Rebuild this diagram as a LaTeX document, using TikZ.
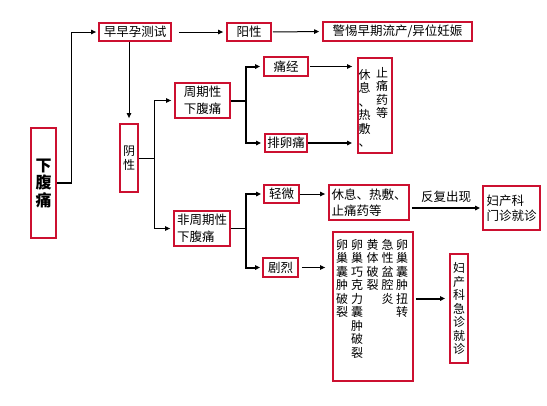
\documentclass[tikz,border=0pt]{standalone}
\usepackage{fontspec}
\setmainfont{Noto Sans CJK SC}
\usetikzlibrary{arrows.meta}
\definecolor{boxred}{RGB}{204,16,48}
\newcommand\dgtxt{\fontsize{12.5}{16.5}\selectfont}
\newcommand\dgvert{\fontsize{12}{13.5}\selectfont}
\newcommand\dgbig{\fontsize{16}{17.5}\selectfont\bfseries}
\begin{document}
\begin{tikzpicture}[x=1pt,y=-1pt,
  box/.style={draw=boxred,line width=1.8pt,inner sep=0pt,font=\dgtxt},
  vbox/.style={box,align=center,font=\dgvert},
  mbox/.style={box,align=left},
  col/.style={inner sep=0pt,align=center,font=\dgvert,anchor=north},
  ln/.style={line width=1pt},
  thk/.style={line width=2pt},
  arr/.style={-{Triangle[length=5pt,width=4.5pt]}}]
\useasboundingbox (0,0) rectangle (547,405);

% nodes
\node[box,align=center,font=\dgbig,minimum width=25pt,minimum height=110pt] (xft) at (43.5,183) {下\\腹\\痛};
\node[box,minimum width=72pt,minimum height=18pt] (zz) at (135,32) {早早孕测试};
\node[box,minimum width=44pt,minimum height=18pt] (yang) at (249,32) {阳性};
\node[box,minimum width=149pt,minimum height=19pt] (jt) at (397.5,31.5) {警惕早期流产/异位妊娠};
\node[vbox,minimum width=18pt,minimum height=68pt] (yin) at (129,158) {阴\\性};
\node[mbox,minimum width=55pt,minimum height=35pt] (zq) at (202.5,100.5) {周期性\\下腹痛};
\node[box,minimum width=44pt,minimum height=19pt] (tj) at (286,66.5) {痛经};
\node[box,minimum width=42pt,minimum height=18pt] (pl) at (286,143) {排卵痛};
\node[box,minimum width=34pt,minimum height=95pt] (zt) at (375,105.5) {};
\node[col] (ztL) at (364.5,69) {休\\息\\、\\热\\敷\\、};
\node[col] (ztR) at (382,67) {止\\痛\\药\\等};
\node[mbox,minimum width=56pt,minimum height=35pt] (fzq) at (202,228.5) {非周期性\\下腹痛};
\node[box,minimum width=35pt,minimum height=18pt] (qw) at (281.5,194) {轻微};
\node[mbox,minimum width=80pt,minimum height=35pt] (xx) at (369,202.5) {休息、热敷、\\止痛药等};
\node[mbox,font=\fontsize{12.5}{15}\selectfont,minimum width=57pt,minimum height=44pt] (mz) at (511.5,208) {妇产科\\门诊就诊};
\node[box,minimum width=35pt,minimum height=19pt] (jl) at (280.5,267.5) {剧烈};
\node[box,minimum width=80pt,minimum height=149pt] (big) at (373,306.5) {};
\node[col] (bc1) at (342,239) {卵\\巢\\囊\\肿\\破\\裂};
\node[col] (bc2) at (357,239) {卵\\巢\\巧\\克\\力\\囊\\肿\\破\\裂};
\node[col] (bc3) at (372.5,239) {黄\\体\\破\\裂};
\node[col] (bc4) at (387.5,239) {急\\性\\盆\\腔\\炎};
\node[col] (bc5) at (402,239) {卵\\巢\\囊\\肿\\扭\\转};
\node[vbox,minimum width=18pt,minimum height=109pt] (jz) at (459,308.5) {妇\\产\\科\\急\\诊\\就\\诊};

% connectors
\draw[thk] (xft.east) -- ++(15,0) coordinate (c1);
\draw[ln,arr,shorten >=2pt] (c1) |- (zz.west);
\draw[ln,arr,shorten <=7pt,shorten >=3pt] (zz.east) -- (yang.west);
\draw[ln,arr,shorten <=1pt,shorten >=3pt] (yang.east) -- (jt.west);
\draw[ln,arr,shorten >=5pt] (yin.north |- zz.south) -- (yin.north);
\draw[ln] (yin.east) -- ++(16,0) coordinate (c2);
\draw[ln,arr,shorten >=3pt] (c2) |- (zq.west);
\draw[ln,arr,shorten >=3pt] (c2) |- (fzq.west);
\draw[thk] (zq.east) -- ++(15,0) coordinate (c3);
\draw[thk,arr,shorten >=3pt] (c3) |- (tj.west);
\draw[thk,arr,shorten >=3pt] (c3) |- (pl.west);
\draw[ln,arr,shorten <=1pt,shorten >=5pt] (tj.east) -- (tj.east -| zt.west);
\draw[thk,arr,shorten >=5pt] (pl.east) -- (pl.east -| zt.west);
\draw[ln] (fzq.east) -- ++(15,0) coordinate (c4);
\draw[thk,arr,shorten >=2pt] (c4) |- (qw.west);
\draw[thk,arr,shorten >=2pt] (c4) |- (jl.west);
\draw[ln,arr,shorten >=3pt] (qw.east) -- (qw.east -| xx.west);
\draw[thk,arr,shorten <=2pt,shorten >=2pt] (mz.west -| xx.east) -- node[above=4pt,font=\dgtxt,inner sep=0pt] (lbl) {反复出现} (mz.west);
\draw[ln,arr,shorten <=3pt,shorten >=7pt] (jl.east) -- (jl.east -| big.west);
\draw[thk,arr,shorten <=2pt,shorten >=4pt] ([yshift=8pt]big.east) -- ([yshift=8pt]big.east -| jz.west);
\end{tikzpicture}
\end{document}
